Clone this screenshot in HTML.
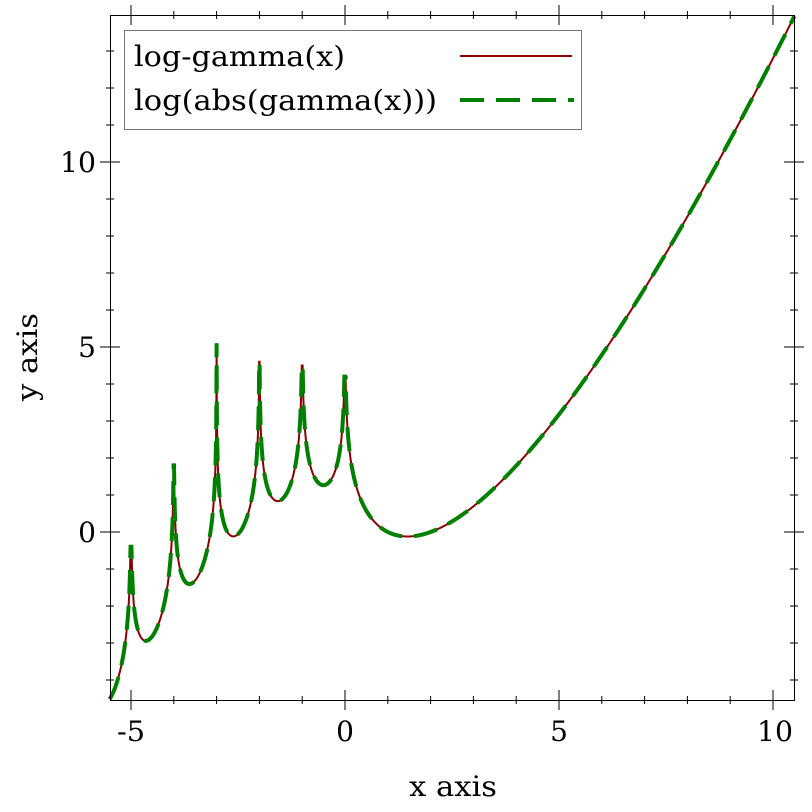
<!DOCTYPE html>
<html><head><meta charset="utf-8"><style>
html,body{margin:0;padding:0;background:#fff;}
svg{display:block;font-family:"DejaVu Serif","Liberation Serif",serif;}
</style></head><body>
<svg id="s" width="812" height="812" xmlns="http://www.w3.org/2000/svg">
<rect width="812" height="812" fill="#fff"/>
<g id="ticks" stroke="#000" stroke-width="1"></g>
<path id="red" fill="none" stroke="#8b0000" stroke-width="2"/>
<path id="green" fill="none" stroke="#008000" stroke-width="4" stroke-dasharray="24,12"/>
<rect x="110.5" y="15.5" width="684" height="685" fill="none" stroke="#000" stroke-width="1"/>
<g font-size="28" text-anchor="middle">
<text x="131" y="741" textLength="28" lengthAdjust="spacingAndGlyphs">-5</text><text x="345" y="741">0</text><text x="559" y="741">5</text><text x="775" y="741" textLength="36" lengthAdjust="spacingAndGlyphs">10</text>
<text x="453" y="796" textLength="88" lengthAdjust="spacingAndGlyphs">x axis</text>
</g>
<g font-size="28" text-anchor="end">
<text x="96" y="172" textLength="36" lengthAdjust="spacingAndGlyphs">10</text><text x="96" y="357">5</text><text x="96" y="542">0</text>
</g>
<text font-size="28" text-anchor="middle" transform="translate(37,357) rotate(-90)" textLength="88" lengthAdjust="spacingAndGlyphs">y axis</text>
<rect x="124.5" y="30.5" width="457" height="99" fill="#fff" stroke="#777" stroke-width="1"/>
<text x="134" y="66" font-size="28" textLength="211" lengthAdjust="spacingAndGlyphs">log-gamma(x)</text>
<text x="134" y="110" font-size="28" textLength="303" lengthAdjust="spacingAndGlyphs">log(abs(gamma(x)))</text>
<line x1="460" y1="56" x2="572" y2="56" stroke="#8b0000" stroke-width="2"/>
<line x1="460" y1="100" x2="574" y2="100" stroke="#008000" stroke-width="4" stroke-dasharray="24,12"/>
</svg>
<script>
function lg(x){
 if(x<0.5){return Math.log(Math.PI/Math.abs(Math.sin(Math.PI*x)))-lg(1-x);}
 var g=7,c=[0.99999999999980993,676.5203681218851,-1259.1392167224028,771.32342877765313,-176.61502916214059,12.507343278686905,-0.13857109526572012,9.9843695780195716e-6,1.5056327351493116e-7];
 x-=1;var a=c[0],t=x+g+0.5;for(var i=1;i<9;i++)a+=c[i]/(x+i);
 return 0.5*Math.log(2*Math.PI)+(x+0.5)*Math.log(t)-t+Math.log(a);
}
var X=function(v){return 345+42.8*v;},Y=function(v){return 532-37*v;};
var peaks={"-5":-0.4,"-4":1.8,"-3":5.1,"-2":4.6,"-1":4.5,"0":4.2};
var d="";
for(var i=0;i<=3200;i++){
 var x=-5.5+16*i/3200,y=lg(x);
 var n=Math.round(x);
 if(n<=0&&n>=-5&&Math.abs(x-n)<0.2){y=Math.min(y,peaks[String(n)]);}
 if(!isFinite(y))y=peaks[String(n)];
 d+=(i?"L":"M")+X(x).toFixed(2)+","+Y(y).toFixed(2);
}
document.getElementById("red").setAttribute("d",d);
document.getElementById("green").setAttribute("d",d);
var t="";
for(var v=-5;v<=10;v++){var px=X(v),L=(v%5==0)?10:4;
 t+="M"+px+","+(15-L)+"V"+(15+L)+"M"+px+","+(700-L)+"V"+(700+L);}
for(var v=-4;v<=13;v++){var py=Y(v),L=(v%5==0)?10:4;
 t+="M"+(110-L)+","+py+"H"+(110+L)+"M"+(794-L)+","+py+"H"+(794+L);}
var p=document.createElementNS("http://www.w3.org/2000/svg","path");p.setAttribute("d",t);
document.getElementById("ticks").appendChild(p);
</script>
</body></html>
